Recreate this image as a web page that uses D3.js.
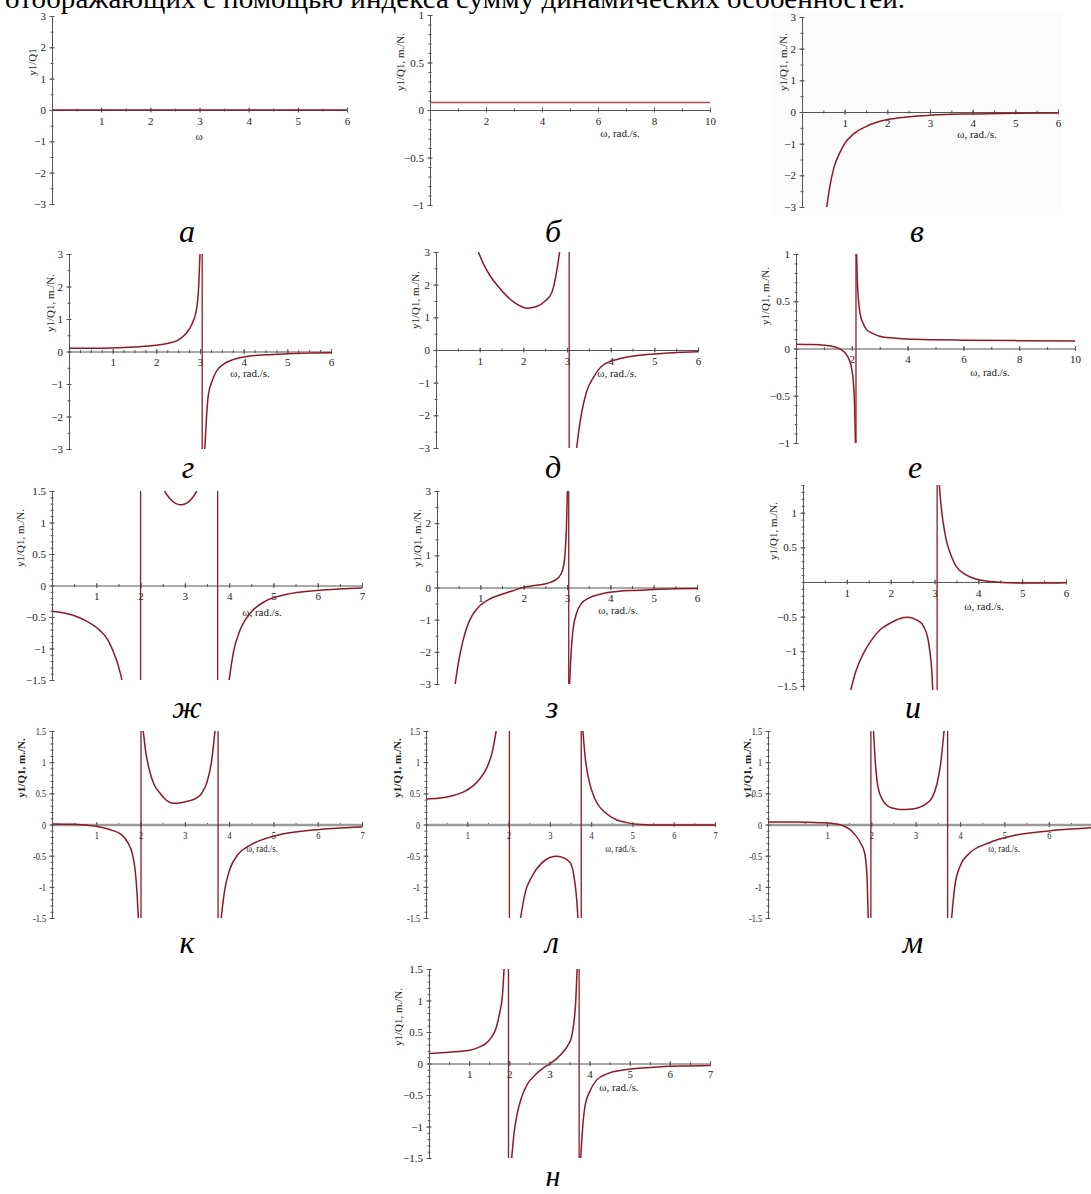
<!DOCTYPE html>
<html><head><meta charset="utf-8">
<script src="https://cdn.jsdelivr.net/npm/d3@7"></script>
<style>
body{margin:0;background:#fff}
svg{display:block}
text{font-family:"Liberation Serif","Times New Roman",Tinos,serif}
</style>
</head><body>
<svg id="c" width="1091" height="1194"></svg>
<script>
// ---------- DATA ----------
const headerText = "отображающих с помощью индекса сумму динамических особенностей.";
const captions = ["а","б","в","г","д","е","ж","з","и","к","л","м","н"];
const xTitles = ["ω","ω, rad./s.","ω, rad./s.","ω, rad./s.","ω, rad./s.","ω, rad./s.","ω, rad./s.","ω, rad./s.","ω, rad./s.","ω, rad./s.","ω, rad./s.","ω, rad./s.","ω, rad./s."];
const yTitles = ["y1/Q1","y1/Q1, m./N.","y1/Q1, m./N.","y1/Q1, m./N.","y1/Q1, m./N.","y1/Q1, m./N.","y1/Q1, m./N.","y1/Q1, m./N.","y1/Q1, m./N.","y1/Q1, m./N.","y1/Q1, m./N.","y1/Q1, m./N.","y1/Q1, m./N."];

const xTicks6 = [1,2,3,4,5,6];
const xTicks10 = [2,4,6,8,10];
const xTicks7 = [1,2,3,4,5,6,7];
const yTicks3 = [-3,-2,-1,0,1,2,3];
const yTicks1 = [-1,-0.5,0,0.5,1];
const yTicks15 = [-1.5,-1,-0.5,0,0.5,1,1.5];
const yTicksI = [-1.5,-1,-0.5,0.5,1];

// curves: list of branches of [ω, y1/Q1]
const curveA = [[[0,0],[6,0]]];
const curveB = [[[0,0.08],[10,0.08]]];
const curveV = [[[0.58,-3],[0.65,-2.37],[0.75,-1.75],[0.9,-1.25],[1,-1],[1.2,-0.7],[1.5,-0.46],[2,-0.24],[2.5,-0.15],[3,-0.1],[4,-0.06],[5,-0.04],[6,-0.03]]];
const curveG = [
  [[0,0.1],[0.5,0.1],[1,0.11],[1.5,0.14],[2,0.19],[2.3,0.26],[2.5,0.35],[2.69,0.57],[2.8,0.8],[2.92,1.3],[2.97,2.0],[3.0,3.0]],
  [[3.11,-3],[3.15,-2.0],[3.19,-1.35],[3.28,-0.9],[3.38,-0.6],[3.55,-0.38],[3.76,-0.25],[4.14,-0.14],[4.5,-0.1],[5,-0.07],[5.5,-0.05],[6,-0.035]]
];
const curveD = [
  [[0.97,3],[1.1,2.6],[1.25,2.25],[1.42,1.95],[1.6,1.68],[1.8,1.45],[2.08,1.28],[2.3,1.33],[2.5,1.5],[2.65,1.75],[2.75,2.3],[2.83,3]],
  [[3.22,-3],[3.3,-2.2],[3.45,-1.27],[3.6,-0.85],[3.83,-0.46],[4.2,-0.27],[4.6,-0.17],[5,-0.12],[5.5,-0.08],[6,-0.05]]
];
const curveE = [
  [[0,0.045],[0.5,0.042],[1,0.035],[1.4,0.015],[1.6,-0.01],[1.8,-0.06],[1.92,-0.13],[2.0,-0.22],[2.06,-0.37],[2.1,-0.6],[2.13,-1]],
  [[2.17,1],[2.2,0.7],[2.25,0.48],[2.29,0.38],[2.4,0.27],[2.53,0.2],[2.75,0.16],[3,0.13],[3.5,0.11],[4,0.1],[5,0.092],[6,0.088],[8,0.083],[10,0.08]]
];
const curveZh = [
  [[0,-0.41],[0.3,-0.44],[0.71,-0.54],[1.09,-0.72],[1.25,-0.85],[1.39,-1.06],[1.5,-1.28],[1.58,-1.5]],
  [[2.54,1.5],[2.65,1.39],[2.8,1.3],[2.93,1.28],[3.05,1.31],[3.18,1.4],[3.27,1.5]],
  [[4.0,-1.5],[4.1,-1.05],[4.24,-0.72],[4.5,-0.42],[4.84,-0.24],[5.3,-0.14],[5.97,-0.08],[6.5,-0.055],[7,-0.04]]
];
const curveZ = [
  [[0.42,-3],[0.5,-2.3],[0.6,-1.65],[0.7,-1.2],[0.8,-0.9],[0.9,-0.7],[1.0,-0.55],[1.2,-0.37],[1.5,-0.21],[1.75,-0.1],[1.98,0],[2.3,0.07],[2.6,0.15],[2.8,0.3],[2.9,0.55],[2.95,0.97],[2.99,2.0],[3.01,3]],
  [[3.06,-3],[3.1,-1.9],[3.14,-1.3],[3.22,-0.8],[3.33,-0.5],[3.5,-0.33],[3.79,-0.2],[4.2,-0.12],[4.56,-0.09],[5,-0.06],[5.5,-0.04],[6,-0.03]]
];
const curveI = [
  [[1.09,-1.56],[1.2,-1.3],[1.38,-1.03],[1.55,-0.85],[1.76,-0.69],[2.0,-0.59],[2.2,-0.53],[2.4,-0.51],[2.6,-0.55],[2.75,-0.64],[2.85,-0.82],[2.9,-1.03],[2.94,-1.3],[2.96,-1.56]],
  [[3.11,1.4],[3.15,1.1],[3.2,0.85],[3.27,0.6],[3.38,0.38],[3.5,0.22],[3.7,0.11],[3.96,0.04],[4.4,0.0],[5.0,-0.015],[5.5,-0.015],[6,-0.01]]
];
const curveK = [
  [[0,0.01],[0.5,0.005],[1,-0.03],[1.3,-0.08],[1.58,-0.17],[1.72,-0.3],[1.81,-0.46],[1.88,-0.75],[1.92,-1.1],[1.95,-1.5]],
  [[2.06,1.5],[2.12,1.15],[2.2,0.87],[2.3,0.65],[2.44,0.5],[2.6,0.38],[2.75,0.34],[2.91,0.35],[3.1,0.38],[3.25,0.42],[3.38,0.5],[3.5,0.68],[3.6,1.0],[3.68,1.5]],
  [[3.82,-1.5],[3.9,-1.05],[4.01,-0.73],[4.2,-0.48],[4.48,-0.33],[5.11,-0.17],[5.89,-0.09],[7,-0.04]]
];
const curveL = [
  [[0,0.41],[0.3,0.42],[0.64,0.46],[0.9,0.52],[1.14,0.62],[1.3,0.73],[1.48,0.92],[1.6,1.15],[1.7,1.5]],
  [[2.29,-1.5],[2.4,-1.1],[2.57,-0.83],[2.8,-0.62],[3.0,-0.53],[3.17,-0.51],[3.35,-0.54],[3.5,-0.62],[3.6,-0.9],[3.65,-1.2],[3.68,-1.5]],
  [[3.8,1.5],[3.86,1.05],[3.95,0.7],[4.1,0.4],[4.36,0.18],[4.6,0.08],[4.86,0.03],[5.2,0.0],[5.7,-0.01],[7,-0.01]]
];
const curveM = [
  [[-0.33,0.04],[0.3,0.04],[0.86,0.03],[1.1,0.02],[1.33,-0.01],[1.5,-0.07],[1.64,-0.17],[1.76,-0.3],[1.85,-0.46],[1.9,-0.8],[1.93,-1.5]],
  [[2.05,1.5],[2.09,1.0],[2.15,0.6],[2.25,0.4],[2.35,0.31],[2.5,0.26],[2.67,0.24],[2.85,0.245],[3.06,0.27],[3.25,0.34],[3.37,0.43],[3.48,0.65],[3.56,0.96],[3.64,1.5]],
  [[3.81,-1.5],[3.88,-1.0],[4.0,-0.67],[4.2,-0.47],[4.63,-0.3],[5.26,-0.17],[6.2,-0.09],[7,-0.05]]
];
const curveN = [
  [[0,0.16],[0.5,0.18],[1.01,0.21],[1.25,0.26],[1.42,0.32],[1.55,0.41],[1.67,0.56],[1.76,0.8],[1.83,1.09],[1.87,1.5]],
  [[2.06,-1.5],[2.12,-1.1],[2.19,-0.82],[2.3,-0.55],[2.44,-0.34],[2.68,-0.16],[2.85,-0.07],[3.02,0],[3.2,0.09],[3.35,0.19],[3.47,0.3],[3.55,0.42],[3.61,0.65],[3.65,0.93],[3.69,1.5]],
  [[3.78,-1.5],[3.83,-1.0],[3.89,-0.66],[4.0,-0.45],[4.18,-0.26],[4.45,-0.16],[4.76,-0.11],[5.58,-0.06],[6.3,-0.04],[7,-0.03]]
];
// vertical asymptote positions (ω)
const asymG = [3.05];
const asymD = [3.05];
const asymE = [2.15];
const asymZh = [2.0, 3.74];
const asymZ = [3.04];
const asymI = [3.06];
const asymK = [2.01, 3.75];
const asymL = [2.02, 3.76];
const asymM = [1.99, 3.72];
const asymN = [1.98, 3.74];

// ---------- LAYOUT (positions/styles) ----------
const layout = [
 {c:curveA, a:[], xt:xTicks6, yt:yTicks3, px:[52,347], xd:[0,6], py:[204,16], yd:[-3,3], xm:0.5, ym:0.5, yl:[32,62], xl:[199,140], cap:[187,242]},
 {c:curveB, a:[], xt:xTicks10, yt:yTicks1, px:[430,710], xd:[0,10], py:[205,15], yd:[-1,1], xm:1, ym:0.1, yl:[400,62], xl:[620,137], cap:[553,242], col:"#a8505a"},
 {c:curveV, a:[], xt:xTicks6, yt:yTicks3, px:[802,1058], xd:[0,6], py:[207,17], yd:[-3,3], xm:0.5, ym:0.5, yl:[783,62], xl:[977,138], cap:[917,242], bg:[772,12,1063,215]},
 {c:curveG, a:asymG, xt:xTicks6, yt:yTicks3, px:[69,331], xd:[0,6], py:[449,254], yd:[-3,3], xm:0.25, ym:0.5, yl:[50,303], xl:[250,377], cap:[188,478]},
 {c:curveD, a:asymD, xt:xTicks6, yt:yTicks3, px:[436,698], xd:[0,6], py:[448,252], yd:[-3,3], xm:0.5, ym:0.5, yl:[415,300], xl:[617,377], cap:[553,478]},
 {c:curveE, a:asymE, xt:xTicks10, yt:yTicks1, px:[796,1075], xd:[0,10], py:[443,254], yd:[-1,1], xm:1, ym:0.1, yl:[765,296], xl:[990,376], cap:[915,478]},
 {c:curveZh, a:asymZh, xt:xTicks7, yt:yTicks15, px:[52,362], xd:[0,7], py:[680,491], yd:[-1.5,1.5], xm:0.5, ym:0.1, yl:[20,538], xl:[262,616], cap:[187,718]},
 {c:curveZ, a:asymZ, xt:xTicks6, yt:yTicks3, px:[437,697], xd:[0,6], py:[684,491], yd:[-3,3], xm:0.5, ym:0.5, yl:[417,538], xl:[618,614], cap:[552,718]},
 {c:curveI, a:asymI, xt:xTicks6, yt:yTicksI, px:[803,1066], xd:[0,6], py:[690,485], yd:[-1.56,1.4], xm:0.5, ym:0.1, yl:[773,531], xl:[984,610], cap:[913,718]},
 {c:curveK, a:asymK, xt:xTicks7, yt:yTicks15, px:[52,362], xd:[0,7], py:[918,731], yd:[-1.5,1.5], xm:0.5, ym:0.1, yl:[21,768], xl:[262,852], cap:[187,953], bold:true, thick:true, hy:true},
 {c:curveL, a:asymL, xt:xTicks7, yt:yTicks15, px:[426,715], xd:[0,7], py:[918,731], yd:[-1.5,1.5], xm:0.5, ym:0.1, yl:[397,768], xl:[621,852], cap:[552,953], bold:true, thick:true, hy:true},
 {c:curveM, a:asymM, xt:xTicks7, yt:yTicks15, px:[768,1097.5], xd:[-0.33,7.1], py:[918,731], yd:[-1.5,1.5], xm:0.5, ym:0.1, yl:[747,768], xl:[1004,852], cap:[913,953], bold:true, thick:true, hy:true},
 {c:curveN, a:asymN, xt:xTicks7, yt:yTicks15, px:[429,710], xd:[0,7], py:[1158,969], yd:[-1.5,1.5], xm:0.5, ym:0.1, yl:[398,1017], xl:[619,1091], cap:[553,1186]}
];

const CURVE = "#8b1a2a";
const AXIS = "#555";
const svg = d3.select("#c");

svg.append("text").attr("x",5).attr("y",8).attr("font-size",28)
  .attr("textLength",900).attr("lengthAdjust","spacingAndGlyphs")
  .attr("fill","#000").text(headerText);

// horizontal squeeze of small labels (row к–м looks condensed in the reference)
function squish(sel, f){
  sel.each(function(){
    const xx = +(this.getAttribute("x") || 0);
    this.setAttribute("x", xx/f);
    this.setAttribute("transform", `scale(${f},1)`);
  });
}

layout.forEach((p,i)=>{
  const g = svg.append("g");
  if (p.bg) g.append("rect").attr("x",p.bg[0]).attr("y",p.bg[1]).attr("width",p.bg[2]-p.bg[0]).attr("height",p.bg[3]-p.bg[1]).attr("fill","#fbfbfb");
  const x = d3.scaleLinear().domain(p.xd).range(p.px);
  const y = d3.scaleLinear().domain(p.yd).range(p.py);
  const fmt = v => (v<0 ? (p.hy?"-":"−") : "") + Math.abs(v);
  const y0 = y(0);

  // minor ticks
  const eps=1e-9;
  const xMin = d3.range(Math.ceil(p.xd[0]/p.xm)*p.xm, p.xd[1]+eps, p.xm).filter(v=>Math.abs(v)>eps && x(v)<=1091);
  const yMin = d3.range(Math.ceil(p.yd[0]/p.ym)*p.ym, p.yd[1]+eps, p.ym);
  const gxm = g.append("g").attr("transform",`translate(0,${y0})`)
    .call(d3.axisBottom(x).tickValues(xMin).tickSize(2).tickFormat(""));
  gxm.select(".domain").remove();
  gxm.selectAll(".tick line").attr("y1",-1.5).attr("y2",1.5).attr("stroke",AXIS);
  const gym = g.append("g").attr("transform",`translate(${p.px[0]},0)`)
    .call(d3.axisLeft(y).tickValues(yMin).tickSize(2).tickFormat(""));
  gym.select(".domain").remove();
  gym.selectAll(".tick line").attr("x1",-1.5).attr("x2",1.5).attr("stroke",AXIS);

  // major axes
  const gx = g.append("g").attr("transform",`translate(0,${y0})`)
    .call(d3.axisBottom(x).tickValues(p.xt.filter(v=>x(v)<=1091)).tickSizeInner(3).tickSizeOuter(0).tickPadding(4).tickFormat(fmt));
  gx.select(".domain").attr("stroke", p.thick ? "#9a9a9a" : AXIS).attr("stroke-width", p.thick?2.5:1);
  gx.selectAll(".tick line").attr("y1",-2.5).attr("y2",2.5).attr("stroke",AXIS);
  gx.selectAll(".tick text").attr("font-size",11).attr("fill","#222").attr("font-family","Liberation Serif");
  const gy = g.append("g").attr("transform",`translate(${p.px[0]},0)`)
    .call(d3.axisLeft(y).tickValues(p.yt).tickSizeInner(3).tickSizeOuter(0).tickPadding(3).tickFormat(fmt));
  gy.select(".domain").attr("stroke",AXIS);
  gy.selectAll(".tick line").attr("x1",-2.5).attr("x2",2.5).attr("stroke",AXIS);
  gy.selectAll(".tick text").attr("font-size",11).attr("fill","#222").attr("font-family","Liberation Serif");
  if (p.hy) { squish(gx.selectAll(".tick text"),0.75); squish(gy.selectAll(".tick text"),0.75); }

  // clip
  const cid = "clip"+i;
  svg.append("clipPath").attr("id",cid).append("rect")
    .attr("x",p.px[0]).attr("y",p.py[1]).attr("width",p.px[1]-p.px[0]).attr("height",p.py[0]-p.py[1]);
  const cg = g.append("g").attr("clip-path",`url(#${cid})`);
  const col = p.col || CURVE;
  p.a.forEach(av=>{
    cg.append("line").attr("x1",x(av)).attr("x2",x(av)).attr("y1",y(p.yd[0])).attr("y2",y(p.yd[1]))
      .attr("stroke",col).attr("stroke-width",1.3);
  });
  const line = d3.line().x(d=>x(d[0])).y(d=>y(d[1])).curve(d3.curveMonotoneX);
  p.c.forEach(seg=>{
    cg.append("path").attr("d",line(seg)).attr("fill","none").attr("stroke",col).attr("stroke-width",1.5);
  });

  // titles
  const xtg = g.append("g").attr("transform",`translate(${p.xl[0]},${p.xl[1]})`);
  xtg.append("text").attr("text-anchor","middle").attr("font-size",11).attr("fill","#222")
    .attr("transform", p.hy ? "scale(0.8,1)" : null).text(xTitles[i]);
  g.append("text").attr("transform",`translate(${p.yl[0]},${p.yl[1]}) rotate(-90)`).attr("text-anchor","middle")
    .attr("dy","0.35em").attr("font-size",11).attr("font-weight",p.bold?"bold":"normal").attr("fill","#222").text(yTitles[i]);
  g.append("text").attr("x",p.cap[0]).attr("y",p.cap[1]).attr("text-anchor","middle").attr("font-size",i===12?30:32)
    .attr("font-style","italic").attr("fill","#000").text(captions[i]);
});
</script>
</body></html>
